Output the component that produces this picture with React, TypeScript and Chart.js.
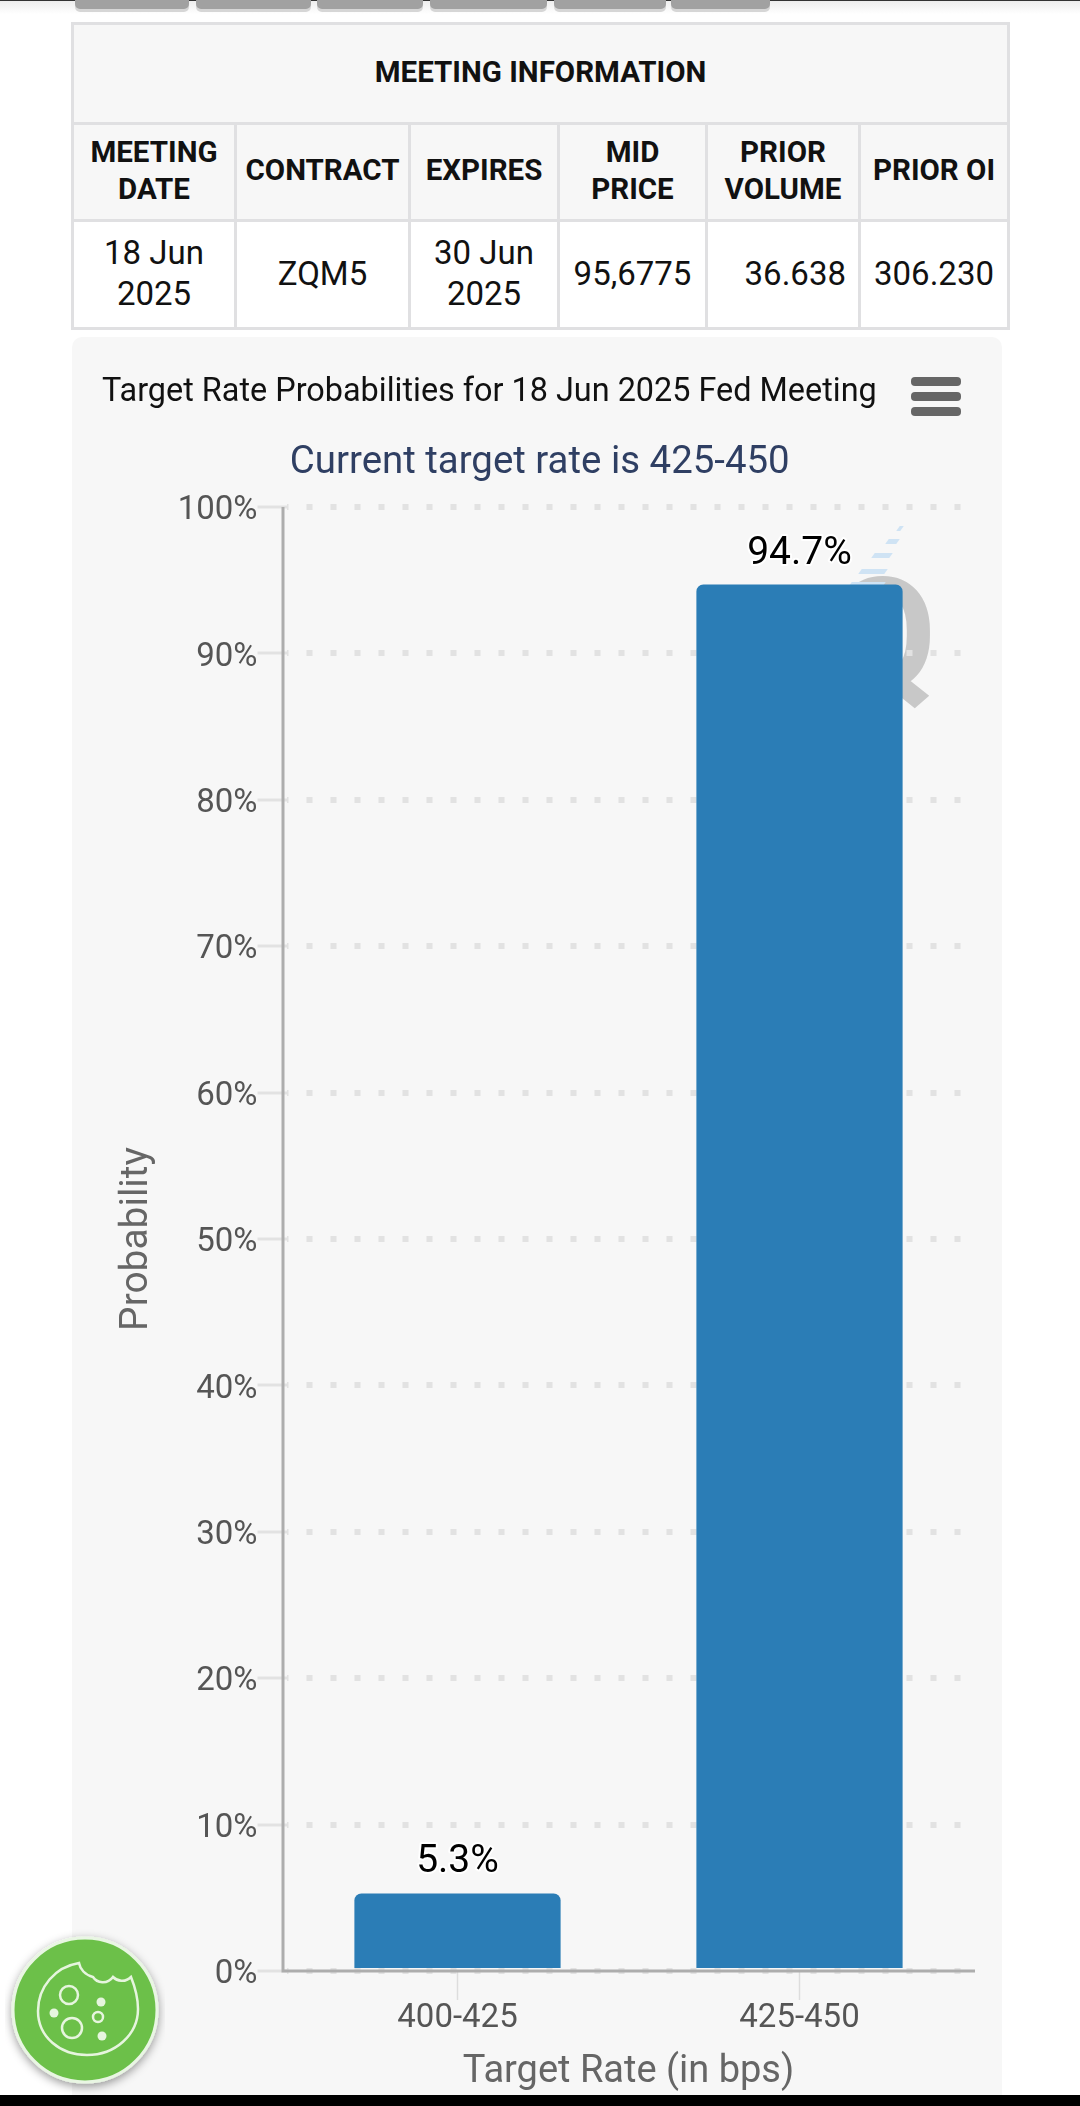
import { useEffect, useRef } from "react";
import { Chart, registerables, type Plugin } from "chart.js";

Chart.register(...registerables);

const targetRates = ["400-425", "425-450"];
const probabilities = [5.3, 94.7];
const yTickValues = [0, 10, 20, 30, 40, 50, 60, 70, 80, 90, 100];

const tabWidths = [
  [75, 114],
  [196, 115],
  [317, 106],
  [430, 117],
  [554, 112],
  [671, 99],
];

const columnWidths = [163, 174, 149, 148, 153, 149];
const headerCells = [["MEETING", "DATE"], ["CONTRACT"], ["EXPIRES"], ["MID", "PRICE"], ["PRIOR", "VOLUME"], ["PRIOR OI"]];
const valueCells = [["18 Jun", "2025"], ["ZQM5"], ["30 Jun", "2025"], ["95,6775"], ["36.638"], ["306.230"]];

const FONT = "Roboto, sans-serif";
const SUBTITLE = "Current target rate is 425-450";

// axis lines run a little past the plot area on both ends, and the bar labels get a white halo
const extrasPlugin: Plugin<"bar"> = {
  id: "extras",
  afterLayout(chart) {
    // subtitle sits slightly right of the title block's centre
    const subtitle = chart.boxes.find((box: any) => box.options?.text === SUBTITLE) as any;
    if (subtitle) {
      subtitle.left += 3.5;
      subtitle.right += 3.5;
    }
  },
  afterDatasetsDraw(chart) {
    const { ctx, chartArea } = chart;
    ctx.save();
    ctx.strokeStyle = "#adadad";
    ctx.lineWidth = 3;
    ctx.beginPath();
    ctx.moveTo(chartArea.left - 3.5, chartArea.top);
    ctx.lineTo(chartArea.left - 3.5, chartArea.bottom);
    ctx.moveTo(chartArea.left - 5, chartArea.bottom);
    ctx.lineTo(chartArea.right + 4.5, chartArea.bottom);
    ctx.stroke();

    ctx.font = `39px ${FONT}`;
    ctx.textAlign = "center";
    ctx.textBaseline = "alphabetic";
    ctx.lineJoin = "round";
    chart.getDatasetMeta(0).data.forEach((bar, i) => {
      const text = `${probabilities[i]}%`;
      const { x, y } = bar.getProps(["x", "y"], true);
      ctx.strokeStyle = "#ffffff";
      ctx.lineWidth = 4;
      ctx.strokeText(text, x, y - 21);
      ctx.fillStyle = "#000000";
      ctx.fillText(text, x, y - 21);
    });
    ctx.restore();
  },
};

function ProbabilityChart() {
  const canvasRef = useRef<HTMLCanvasElement>(null);

  useEffect(() => {
    if (!canvasRef.current) return;
    const chart = new Chart(canvasRef.current, {
      type: "bar",
      data: {
        labels: targetRates,
        datasets: [
          {
            data: probabilities,
            backgroundColor: "#2b7db6",
            barPercentage: 0.603,
            categoryPercentage: 1,
            borderRadius: { topLeft: 7, topRight: 7, bottomLeft: 0, bottomRight: 0 },
            borderSkipped: false,
          },
        ],
      },
      plugins: [extrasPlugin],
      options: {
        responsive: true,
        maintainAspectRatio: false,
        animation: false,
        layout: { padding: { left: 30, right: 31.5, top: 36, bottom: 0 } },
        plugins: {
          legend: { display: false },
          tooltip: { enabled: false },
          title: {
            display: true,
            text: "Target Rate Probabilities for 18 Jun 2025 Fed Meeting",
            align: "start",
            color: "#111111",
            font: { family: FONT, size: 32.4, weight: "normal" },
            padding: { top: 0, bottom: 28.5 },
          },
          subtitle: {
            display: true,
            text: SUBTITLE,
            color: "#2f3f63",
            font: { family: FONT, size: 38.4, weight: "normal" },
            padding: { top: 0, bottom: 20.5 },
          },
        },
        scales: {
          x: {
            border: { display: false },
            grid: {
              offset: false,
              drawOnChartArea: false,
              drawTicks: true,
              tickLength: 29,
              tickWidth: 1.5,
              tickColor: "#dddddd",
            },
            ticks: { color: "#555555", font: { family: FONT, size: 33 }, padding: -1.5 },
            title: {
              display: true,
              text: "Target Rate (in bps)",
              color: "#666666",
              font: { family: FONT, size: 38 },
              padding: { top: -3.5, bottom: 0 },
            },
            afterFit(scale) {
              scale.height = 124;
            },
          },
          y: {
            min: 0,
            max: 100,
            border: { display: false, dash: [6, 18], dashOffset: 4.5 },
            afterBuildTicks(scale) {
              scale.ticks = yTickValues.map((value) => ({ value }));
            },
            grid: {
              color: "#e2e2e2",
              lineWidth: 6,
              tickLength: 29,
              tickWidth: 3,
              tickColor: "#e2e2e2",
              tickBorderDash: [],
            },
            ticks: {
              color: "#555555",
              font: { family: FONT, size: 33 },
              padding: 0,
              labelOffset: 4,
              callback: (value) => `${value}%`,
            },
            title: {
              display: true,
              text: "Probability",
              color: "#666666",
              font: { family: FONT, size: 38.9 },
              padding: { top: 12, bottom: 0 },
            },
            afterFit(scale) {
              scale.width = 184.5;
            },
          },
        },
      },
    });
    return () => chart.destroy();
  }, []);

  return <canvas ref={canvasRef} />;
}

function CookieBadge() {
  return (
    <svg width="160" height="170" viewBox="0 0 160 170" style={{ position: "absolute", left: 5, top: 1927 }}>
      <defs>
        <filter id="badgeShadow" x="-20%" y="-20%" width="140%" height="140%">
          <feDropShadow dx="0" dy="3" stdDeviation="5" floodColor="#000" floodOpacity="0.4" />
        </filter>
      </defs>
      <circle cx="80" cy="83" r="72" fill="#6cc04a" stroke="#e9f6e3" strokeWidth="3" filter="url(#badgeShadow)" />
      <path
        d="M74 36 C50 40 33 60 33 84 C33 110 55 128 82 128 C110 128 133 108 133 82 C133 72 130 60 126 50 C120 56 112 54 108 50 C102 58 92 56 88 50 C80 48 75 42 74 36 Z"
        fill="none"
        stroke="#e6f5de"
        strokeWidth="2.5"
      />
      <g fill="none" stroke="#e6f5de" strokeWidth="2.5">
        <circle cx="64" cy="68" r="9" />
        <circle cx="67" cy="101" r="10" />
        <circle cx="93" cy="90" r="5" />
      </g>
      <g fill="#e6f5de">
        <circle cx="96" cy="75" r="4.5" />
        <circle cx="49" cy="86" r="4.5" />
        <circle cx="97" cy="109" r="4.5" />
      </g>
    </svg>
  );
}

const cellStyle: React.CSSProperties = {
  border: "3px solid #e0e0e2",
  padding: "0 0 3px",
  textAlign: "center",
  verticalAlign: "middle",
  lineHeight: "37px",
};

export default function App() {
  return (
    <div style={{ position: "relative", width: 1080, height: 2106, overflow: "hidden", background: "#fff", fontFamily: FONT }}>
      <style>{"html,body{margin:0;padding:0;overflow:hidden}"}</style>

      <div style={{ position: "absolute", left: 0, top: 0, width: 1080, height: 14, background: "linear-gradient(#ececec, #ffffff)" }} />
      <div style={{ position: "absolute", left: 0, top: 0, width: 1080, height: 1, background: "#333" }} />
      {tabWidths.map(([left, width]) => (
        <div
          key={left}
          style={{
            position: "absolute",
            left,
            top: -6,
            width,
            height: 15,
            background: "#a1a1a1",
            borderRadius: 5,
            boxShadow: "0 3px 0 #d6d6d6",
          }}
        />
      ))}

      <table
        style={{
          position: "absolute",
          left: 71,
          top: 22,
          width: 936,
          tableLayout: "fixed",
          borderCollapse: "collapse",
          color: "#111",
          fontSize: 30,
        }}
      >
        <colgroup>
          {columnWidths.map((w, i) => (
            <col key={i} style={{ width: w }} />
          ))}
        </colgroup>
        <tbody>
          <tr style={{ height: 100, background: "#f7f7f7" }}>
            <th colSpan={6} style={{ ...cellStyle, fontSize: 29.5 }}>
              MEETING INFORMATION
            </th>
          </tr>
          <tr style={{ height: 97, background: "#f7f7f7" }}>
            {headerCells.map((lines, i) => (
              <th key={i} style={{ ...cellStyle, fontSize: 29.5 }}>
                {lines.map((l) => (
                  <div key={l}>{l}</div>
                ))}
              </th>
            ))}
          </tr>
          <tr style={{ height: 108, background: "#fff" }}>
            {valueCells.map((lines, i) => (
              <td
                key={i}
                style={{ ...cellStyle, fontSize: 33, lineHeight: "41px", ...(i === 4 ? { textAlign: "right", paddingRight: 12 } : {}) }}
              >
                {lines.map((l) => (
                  <div key={l}>{l}</div>
                ))}
              </td>
            ))}
          </tr>
        </tbody>
      </table>

      <div style={{ position: "absolute", left: 72, top: 337, width: 930, height: 1758, background: "#f7f7f7", borderRadius: "10px 10px 0 0" }} />

      {/* watermark sits behind the transparent canvas */}
      <div style={{ position: "absolute", left: 829, top: 550, fontSize: 156, lineHeight: "170px", fontWeight: 700, color: "#c8c8c8" }}>Q</div>
      {[
        [898, 526, 4],
        [887, 539, 11],
        [873, 553, 18],
        [860, 569, 26],
        [850, 582, 34],
      ].map(([left, top, width]) => (
        <div key={top} style={{ position: "absolute", left, top, width, height: 5, background: "#cfe3f4", transform: "skewX(-35deg)" }} />
      ))}

      <div style={{ position: "absolute", left: 72, top: 337, width: 930, height: 1758 }}>
        <ProbabilityChart />
      </div>

      {[377, 392, 407].map((top) => (
        <div key={top} style={{ position: "absolute", left: 911, top, width: 50, height: 9, background: "#666", borderRadius: 4 }} />
      ))}

      <CookieBadge />
      <div style={{ position: "absolute", left: 0, top: 2095, width: 1080, height: 11, background: "#000" }} />
    </div>
  );
}
